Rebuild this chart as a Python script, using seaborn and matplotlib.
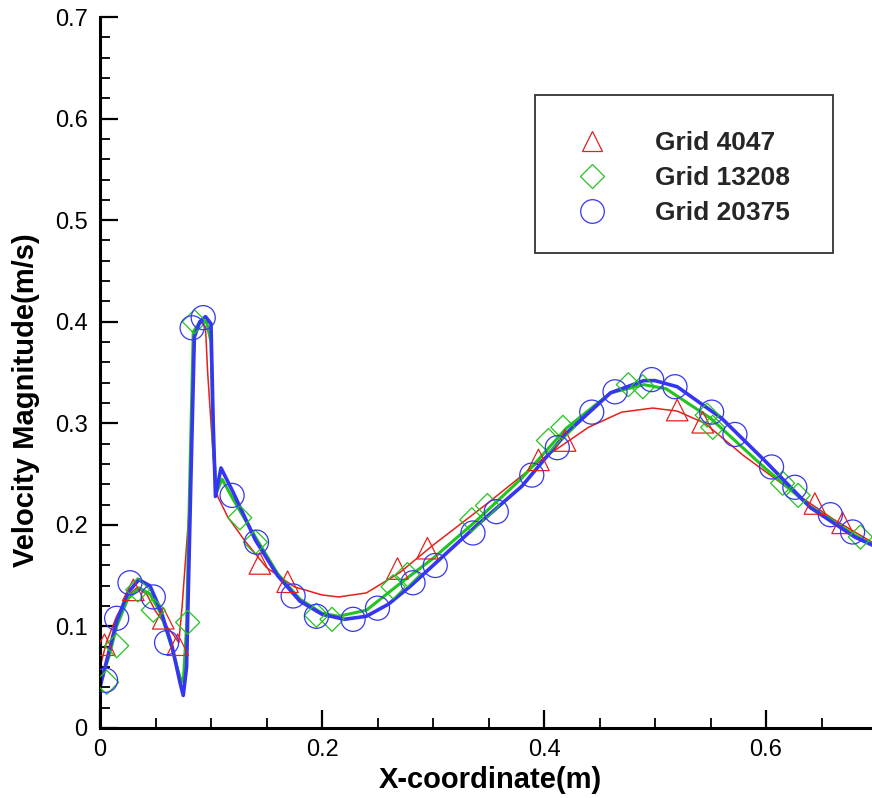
import numpy as np
import pandas as pd
import seaborn as sns
import matplotlib
matplotlib.use("Agg")
import matplotlib.pyplot as plt
from matplotlib.lines import Line2D
from matplotlib.patches import Rectangle
from matplotlib.ticker import MultipleLocator

# ---------------- data ----------------
series_names = ["Grid 4047", "Grid 13208", "Grid 20375"]

red_x = [0.000, 0.006, 0.015, 0.025, 0.033, 0.042, 0.050, 0.058, 0.066, 0.071,
         0.074, 0.077, 0.080, 0.083, 0.085, 0.090, 0.095, 0.097, 0.100, 0.103,
         0.106, 0.115, 0.130, 0.150, 0.175, 0.200, 0.215, 0.240, 0.270, 0.300,
         0.350, 0.400, 0.440, 0.470, 0.498, 0.520, 0.545, 0.580, 0.620, 0.660, 0.700]
red_y = [0.060, 0.085, 0.110, 0.130, 0.138, 0.132, 0.115, 0.103, 0.092, 0.084,
         0.120, 0.165, 0.210, 0.330, 0.385, 0.400, 0.395, 0.350, 0.300, 0.250,
         0.228, 0.208, 0.185, 0.158, 0.139, 0.131, 0.129, 0.133, 0.153, 0.180,
         0.222, 0.266, 0.296, 0.311, 0.315, 0.312, 0.300, 0.268, 0.236, 0.206, 0.180]

green_x = [0.000, 0.008, 0.015, 0.025, 0.035, 0.045, 0.055, 0.065, 0.072, 0.075,
           0.078, 0.081, 0.084, 0.090, 0.096, 0.100, 0.102, 0.105, 0.110, 0.120,
           0.140, 0.160, 0.180, 0.200, 0.215, 0.240, 0.270, 0.300, 0.340, 0.380,
           0.420, 0.460, 0.490, 0.510, 0.550, 0.600, 0.640, 0.680, 0.700]
green_y = [0.045, 0.070, 0.100, 0.127, 0.138, 0.132, 0.112, 0.078, 0.050, 0.045,
           0.100, 0.250, 0.390, 0.400, 0.400, 0.380, 0.280, 0.232, 0.245, 0.225,
           0.188, 0.152, 0.127, 0.113, 0.110, 0.116, 0.142, 0.167, 0.205, 0.246,
           0.295, 0.330, 0.338, 0.334, 0.305, 0.255, 0.218, 0.190, 0.178]

blue_x = [0.000, 0.008, 0.015, 0.025, 0.035, 0.045, 0.055, 0.065, 0.072, 0.075,
          0.078, 0.082, 0.085, 0.090, 0.095, 0.100, 0.102, 0.104, 0.109, 0.120,
          0.140, 0.160, 0.180, 0.200, 0.220, 0.240, 0.260, 0.280, 0.300, 0.340,
          0.380, 0.420, 0.460, 0.490, 0.500, 0.520, 0.560, 0.600, 0.640, 0.680, 0.700]
blue_y = [0.040, 0.075, 0.105, 0.133, 0.146, 0.140, 0.115, 0.080, 0.045, 0.032,
          0.060, 0.250, 0.385, 0.400, 0.405, 0.398, 0.300, 0.228, 0.256, 0.232,
          0.185, 0.150, 0.125, 0.112, 0.107, 0.110, 0.122, 0.140, 0.160, 0.200,
          0.238, 0.290, 0.330, 0.342, 0.342, 0.336, 0.305, 0.262, 0.217, 0.188, 0.178]

# symbol positions
red_mx = [0.004, 0.030, 0.057, 0.070, 0.144, 0.169, 0.268, 0.295, 0.395, 0.419,
          0.520, 0.543, 0.644, 0.669]
red_my = [0.082, 0.136, 0.108, 0.082, 0.162, 0.144, 0.157, 0.177, 0.264, 0.283,
          0.313, 0.301, 0.221, 0.202]

green_mx = [0.006, 0.015, 0.034, 0.048, 0.079, 0.085, 0.126, 0.140, 0.195, 0.209,
            0.264, 0.277, 0.335, 0.349, 0.404, 0.417, 0.476, 0.489, 0.547, 0.552,
            0.615, 0.629, 0.685]
green_my = [0.045, 0.081, 0.136, 0.116, 0.104, 0.400, 0.207, 0.183, 0.111, 0.107,
            0.139, 0.151, 0.205, 0.219, 0.283, 0.296, 0.338, 0.336, 0.308, 0.296,
            0.241, 0.229, 0.188]

blue_mx = [0.005, 0.015, 0.027, 0.048, 0.060, 0.083, 0.093, 0.119, 0.141, 0.174,
           0.195, 0.228, 0.250, 0.282, 0.302, 0.336, 0.357, 0.389, 0.412, 0.443,
           0.464, 0.497, 0.518, 0.551, 0.572, 0.605, 0.626, 0.658, 0.678]
blue_my = [0.047, 0.108, 0.143, 0.129, 0.084, 0.394, 0.404, 0.229, 0.183, 0.130,
           0.110, 0.107, 0.118, 0.143, 0.160, 0.192, 0.213, 0.249, 0.276, 0.311,
           0.331, 0.343, 0.336, 0.311, 0.289, 0.257, 0.237, 0.210, 0.193]

x_ticks = [0, 0.2, 0.4, 0.6]
x_tick_labels = ["0", "0.2", "0.4", "0.6"]
y_ticks = [0, 0.1, 0.2, 0.3, 0.4, 0.5, 0.6, 0.7]
y_tick_labels = ["0", "0.1", "0.2", "0.3", "0.4", "0.5", "0.6", "0.7"]

# ---------------- styling ----------------
sns.set_theme(style="white")
plt.rcParams["font.family"] = ["Liberation Sans", "DejaVu Sans"]

RED = "#e4211c"
GREEN = "#22c41f"
BLUE = "#3636f2"

fig = plt.figure(figsize=(8.72, 7.98), dpi=100)
ax = fig.add_axes([100 / 872, 70 / 798, 772 / 872, 711 / 798])

lines = [
    (red_x, red_y, RED, 1.1),
    (green_x, green_y, GREEN, 2.2),
    (blue_x, blue_y, BLUE, 2.6),
]
for xs, ys, c, lw in lines:
    df = pd.DataFrame({"x": xs, "y": ys})
    sns.lineplot(data=df, x="x", y="y", sort=False, estimator=None,
                 color=c, linewidth=lw, ax=ax, legend=False)

markers = [
    (red_mx, red_my, RED, "^", 240),
    (green_mx, green_my, GREEN, "D", 150),
    (blue_mx, blue_my, BLUE, "o", 300),
]
for xs, ys, c, m, s in markers:
    df = pd.DataFrame({"x": xs, "y": ys})
    n_before = len(ax.collections)
    sns.scatterplot(data=df, x="x", y="y", marker=m, s=s, ax=ax, legend=False,
                    color=c, zorder=5)
    for coll in ax.collections[n_before:]:
        coll.set_facecolor("none")
        coll.set_edgecolor(c)
        coll.set_linewidth(0.9)

x_max = (872 - 100) / 1110
ax.set_xlim(0, x_max)
ax.set_ylim(0, 0.7)

ax.set_xticks(x_ticks)
ax.set_xticklabels(x_tick_labels)
ax.set_yticks(y_ticks)
ax.set_yticklabels(y_tick_labels)
ax.xaxis.set_minor_locator(MultipleLocator(0.05))
ax.yaxis.set_minor_locator(MultipleLocator(0.02))

ax.tick_params(which="major", direction="in", length=13, width=1.6,
               labelsize=17, color="black", labelcolor="black")
ax.tick_params(axis="x", which="major", pad=8)
ax.tick_params(axis="y", which="major", pad=9)
ax.tick_params(which="minor", direction="in", length=7, width=1.3, color="black")
ax.tick_params(bottom=True, left=True, which="both")

for side in ["top", "right"]:
    ax.spines[side].set_visible(False)
for side in ["left", "bottom"]:
    ax.spines[side].set_color("black")
    ax.spines[side].set_linewidth(2.2)

ax.set_xlabel("X-coordinate(m)", fontsize=21, fontweight="bold", color="black")
ax.set_ylabel("Velocity Magnitude(m/s)", fontsize=21, fontweight="bold", color="black")
ax.xaxis.set_label_coords(0.506, -0.054)
ax.yaxis.set_label_coords(-0.078, 0.461)

# legend box
ax.add_patch(Rectangle((0.5635, 0.668), 0.3855, 0.222, transform=ax.transAxes,
                       facecolor="white", edgecolor="#333333", linewidth=1.3,
                       zorder=10))
handles = [
    Line2D([], [], linestyle="none", marker="^", markersize=15, markerfacecolor="none",
           markeredgecolor=RED, markeredgewidth=0.9),
    Line2D([], [], linestyle="none", marker="D", markersize=12, markerfacecolor="none",
           markeredgecolor=GREEN, markeredgewidth=0.9),
    Line2D([], [], linestyle="none", marker="o", markersize=17, markerfacecolor="none",
           markeredgecolor=BLUE, markeredgewidth=0.9),
]
leg = ax.legend(handles, series_names, loc="upper left",
                bbox_to_anchor=((578.5 - 100) / 772, (728 - 131) / 711),
                frameon=False, borderpad=0, borderaxespad=0, handlelength=1.0,
                handletextpad=1.9, labelspacing=0.42,
                prop={"family": ["Liberation Sans", "DejaVu Sans"], "weight": "bold", "size": 19})
leg.set_zorder(11)

fig.savefig("out.png", dpi=100, facecolor="white")
